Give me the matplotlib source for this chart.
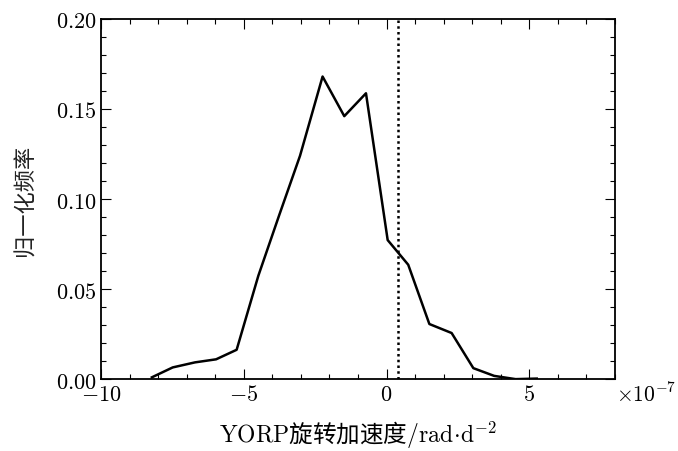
import matplotlib
matplotlib.use("Agg")
import matplotlib.pyplot as plt
from matplotlib.ticker import MultipleLocator

# data (x in units of 1e-7 rad/d^2)
x_vals = [-8.22, -7.49, -6.71, -5.97, -5.25, -4.49, -3.76, -3.03, -2.24, -1.48,
          -0.72, 0.04, 0.76, 1.50, 2.28, 3.04, 3.77, 4.52, 5.26]
freq = [0.001, 0.0065, 0.0093, 0.011, 0.0163, 0.0574, 0.091, 0.124, 0.168, 0.146,
        0.1587, 0.0772, 0.0635, 0.0306, 0.0256, 0.0061, 0.0018, 0.0, 0.0003]
vline_x = 0.39
x_ticks = [-10, -5, 0, 5]
y_ticks = [0.00, 0.05, 0.10, 0.15, 0.20]

plt.rcParams['mathtext.fontset'] = 'cm'
plt.rcParams['font.family'] = ['DejaVu Serif', 'Noto Sans CJK SC']

fig = plt.figure(figsize=(6.78, 4.52), dpi=100)
ax = fig.add_axes([0.149, 0.159, 0.758, 0.797])

ax.plot(x_vals, freq, color='black', lw=1.8)
ax.axvline(vline_x, color='black', lw=1.8, ls=(0, (1, 1.3)))

ax.set_xlim(-10, 8)
ax.set_ylim(0, 0.20)
ax.set_xticks(x_ticks)
ax.set_yticks(y_ticks)
ax.xaxis.set_minor_locator(MultipleLocator(1))
ax.yaxis.set_minor_locator(MultipleLocator(0.01))
ax.set_xticklabels([r'$%d$' % t if t >= 0 else r'$-%d$' % (-t) for t in x_ticks])
ax.set_yticklabels([r'$%.2f$' % t for t in y_ticks])
ax.tick_params(which='both', direction='in', top=True, right=True, labelsize=16)
ax.tick_params(axis='x', pad=3)
ax.tick_params(axis='y', pad=3)
ax.tick_params(which='major', length=7, width=0.8)
ax.tick_params(which='minor', length=3.5, width=0.8)
for s in ax.spines.values():
    s.set_linewidth(1.3)

ax.text(1.002, -0.008, r'$\times10^{-7}$', transform=ax.transAxes, fontsize=15.5,
        ha='left', va='top')

ax.set_xlabel(r'$\mathrm{YORP}$旋转加速度$/\mathrm{rad}\!\cdot\!\mathrm{d}^{-2}$',
              fontsize=17, family=['Noto Sans CJK SC'], labelpad=10)
ax.set_ylabel('归一化频率', fontsize=16, family=['Noto Sans CJK SC'], labelpad=14,
              color='#222222')

fig.savefig('out.png', dpi=100)
